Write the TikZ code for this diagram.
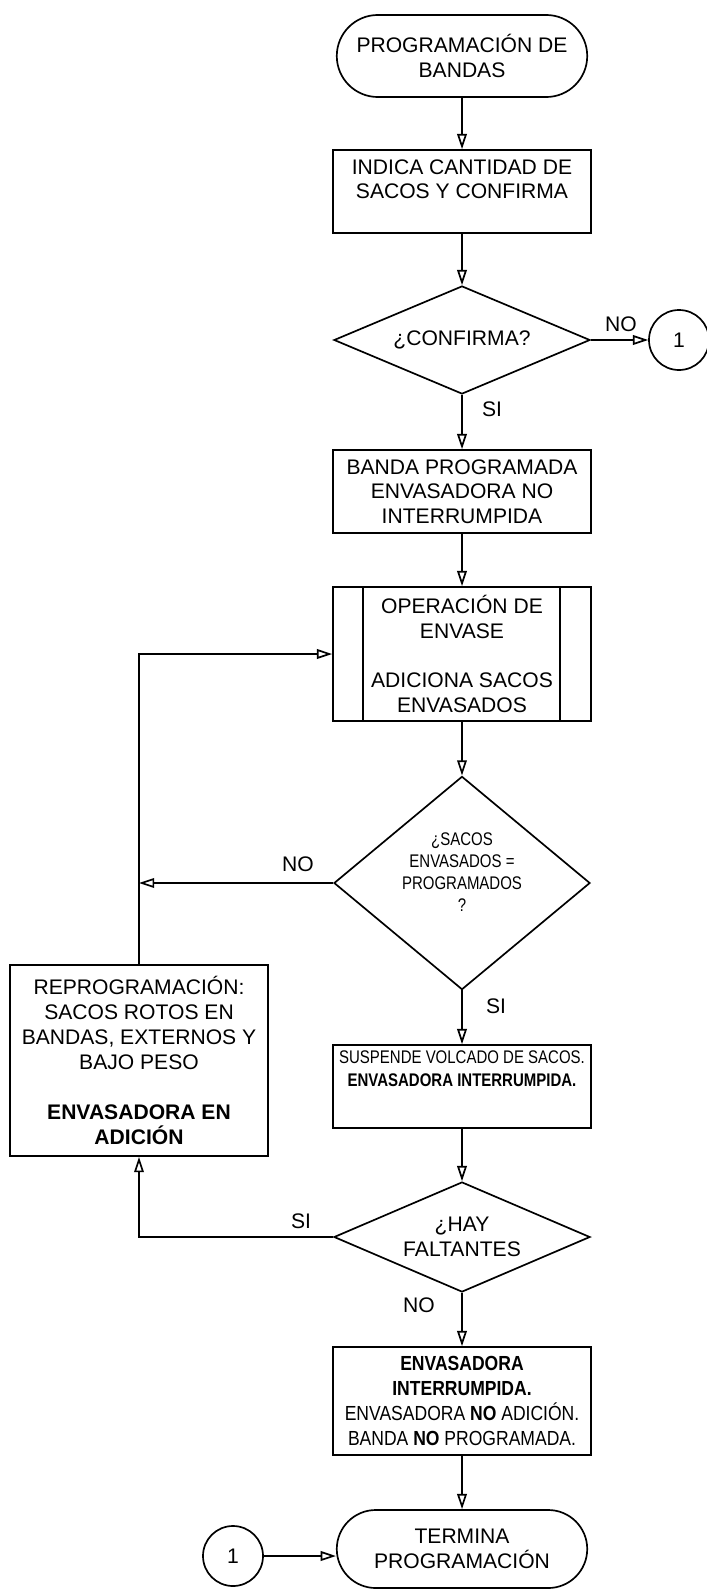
\documentclass[tikz,border=0pt]{standalone}
\usepackage{fontspec}
\setmainfont{Liberation Sans}
\newfontfamily\narrowfont[FakeStretch=0.82]{Liberation Sans}
\newfontfamily\condfont[FakeStretch=0.86]{Liberation Sans}
\usetikzlibrary{arrows.meta,shapes.geometric,shapes.misc}

\begin{document}
\begin{tikzpicture}[
    x=0.025cm, y=-0.025cm,
    line width=1.2pt,
    every node/.style={font=\fontsize{15}{17.5}\selectfont, align=center},
    proc/.style={draw, rectangle, minimum width=6.45cm, inner sep=2pt},
    term/.style={draw, rounded rectangle, minimum width=6.4cm, inner sep=2pt},
    decision/.style={draw, diamond, minimum width=6.4cm, inner sep=0pt},
    conn/.style={draw, circle, minimum size=1.5cm, inner sep=0pt},
    lbl/.style={inner sep=1pt},
    arrow/.style={-{Triangle[open, length=0.38cm, width=0.24cm]}},
]
    \useasboundingbox (0,0) rectangle (707,1591);

    \node[term, minimum height=2.05cm] (start) at (462,56) {PROGRAMACIÓN DE\\BANDAS};
    \node[proc, minimum height=2.075cm] (cant) at (462,191.5) {INDICA CANTIDAD DE\\SACOS Y CONFIRMA\\~};
    \node[decision, minimum height=2.7cm, aspect=2.37] (conf) at (462,340) {¿CONFIRMA?};
    \node[conn] (c1a) at (679,340) {1};
    \node[proc, minimum height=2.075cm] (banda) at (462,491.5) {BANDA PROGRAMADA\\ENVASADORA NO\\INTERRUMPIDA};
    \node[proc, minimum height=3.35cm] (oper) at (462,654) {OPERACIÓN DE\\ENVASE\\~\\ADICIONA SACOS\\ENVASADOS};
    \draw ([xshift=0.775cm]oper.north west) -- ([xshift=0.775cm]oper.south west);
    \draw ([xshift=-0.8cm]oper.north east) -- ([xshift=-0.8cm]oper.south east);
    \node[decision, minimum height=5.33cm, aspect=1.2, font=\narrowfont\fontsize{13}{15.6}\selectfont] (igual) at (462,883) {¿SACOS\\ENVASADOS =\\PROGRAMADOS\\?\\~};
    \node[proc, minimum width=6.45cm, minimum height=4.78cm, font=\fontsize{15}{17.8}\selectfont] (reprog) at (139,1060.5) {REPROGRAMACIÓN:\\SACOS ROTOS EN\\BANDAS, EXTERNOS Y\\BAJO PESO\\~\\\textbf{ENVASADORA EN}\\\textbf{ADICIÓN}};
    \node[proc, minimum height=2.075cm, font=\narrowfont\fontsize{13}{16.3}\selectfont] (susp) at (462,1086.5) {SUSPENDE VOLCADO DE SACOS.\\\textbf{ENVASADORA INTERRUMPIDA.}\\[0.3cm]~};
    \node[decision, minimum height=2.75cm, aspect=2.33] (falta) at (462,1237) {¿HAY\\FALTANTES};
    \node[proc, minimum height=2.7cm, font=\condfont\fontsize{14.5}{17.7}\selectfont] (fin) at (462,1401) {\textbf{ENVASADORA}\\\textbf{INTERRUMPIDA.}\\ENVASADORA \textbf{NO} ADICIÓN.\\BANDA \textbf{NO} PROGRAMADA.};
    \node[term, minimum height=1.95cm] (termina) at (462,1549) {TERMINA\\PROGRAMACIÓN};
    \node[conn] (c1b) at (233,1556) {1};

    \node[lbl] (no1) at (621,324) {NO};
    \node[lbl] (si1) at (492,409) {SI};
    \node[lbl] (no2) at (298,864) {NO};
    \node[lbl] (si2) at (496,1006) {SI};
    \node[lbl] (si3) at (301,1221) {SI};
    \node[lbl] (no3) at (419,1305) {NO};

    \draw[arrow] (start) -- (cant);
    \draw[arrow] (cant) -- (conf);
    \draw[arrow] (conf) -- (c1a);
    \draw[arrow] (conf) -- (banda);
    \draw[arrow] (banda) -- (oper);
    \draw[arrow] (oper) -- (igual);
    \draw[arrow] (igual) -- (susp);
    \draw[arrow] (susp) -- (falta);
    \draw[arrow] (falta) -- (fin);
    \draw[arrow] (fin) -- (termina);
    \draw[arrow] (igual.west) -- (igual.west -| reprog.north);
    \draw[arrow] (falta.west) -| (reprog.south);
    \draw[arrow] (reprog.north) |- (oper.west);
    \draw[arrow] (c1b) -- (c1b -| termina.west);

\end{tikzpicture}
\end{document}
